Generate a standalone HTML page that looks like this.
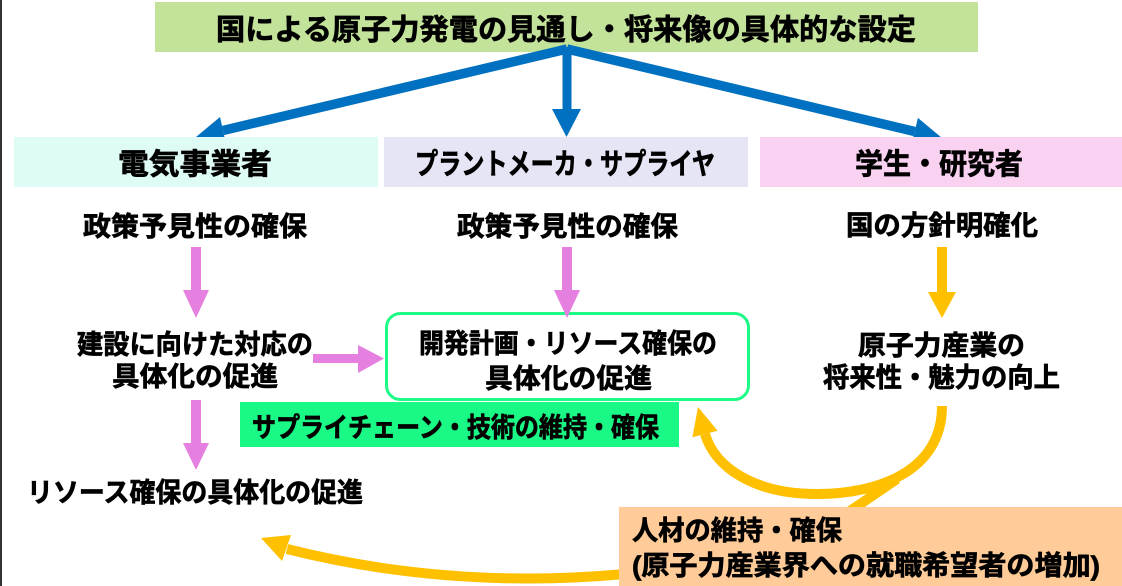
<!DOCTYPE html>
<html>
<head>
<meta charset="utf-8">
<style>
  html,body{margin:0;padding:0;background:#fff;}
  body{width:1122px;height:586px;overflow:hidden;}
  svg{display:block;}
  text{font-family:"Liberation Sans","Noto Sans CJK JP",sans-serif;font-weight:bold;fill:#000;stroke:#000;stroke-width:0.7px;}
</style>
</head>
<body>
<svg width="1122" height="586" viewBox="0 0 1122 586" xmlns="http://www.w3.org/2000/svg">
  <!-- left border line -->
  <rect x="0" y="0" width="2" height="586" fill="#333"/>

  <!-- title -->
  <rect x="155" y="2" width="823" height="50" fill="#c3e29a"/>
  <text x="216" y="39.5" font-size="29" textLength="700" lengthAdjust="spacingAndGlyphs">国による原子力発電の見通し・将来像の具体的な設定</text>

  <!-- blue arrows -->
  <g fill="#0070c0" stroke="none">
    <line x1="567" y1="49" x2="223" y2="130.5" stroke="#0070c0" stroke-width="9.5"/>
    <polygon points="196,137 220,117 226,144"/>
    <line x1="567" y1="49" x2="914.7" y2="131.5" stroke="#0070c0" stroke-width="9.5"/>
    <polygon points="942,138 917.9,117.9 911.5,145.1"/>
    <rect x="562.5" y="47" width="9" height="64"/>
    <polygon points="552,109 581,109 566.5,137"/>
  </g>

  <!-- category boxes -->
  <rect x="14" y="137" width="364" height="50" fill="#dffbf5"/>
  <rect x="384" y="137" width="364" height="50" fill="#e6e5f6"/>
  <rect x="760" y="137" width="362" height="50" fill="#f9d1f1"/>
  <text x="118" y="174" font-size="29" textLength="154" lengthAdjust="spacingAndGlyphs">電気事業者</text>
  <text x="415" y="174" font-size="29" textLength="300" lengthAdjust="spacingAndGlyphs">プラントメーカ・サプライヤ</text>
  <text x="855" y="174" font-size="29" textLength="168" lengthAdjust="spacingAndGlyphs">学生・研究者</text>

  <!-- row 2 -->
  <text x="83" y="236" font-size="27" textLength="224" lengthAdjust="spacingAndGlyphs">政策予見性の確保</text>
  <text x="457" y="236" font-size="27" textLength="221" lengthAdjust="spacingAndGlyphs">政策予見性の確保</text>
  <text x="846" y="235" font-size="27" textLength="192" lengthAdjust="spacingAndGlyphs">国の方針明確化</text>

  <!-- middle rounded box -->
  <rect x="386.5" y="313.5" width="362" height="86" rx="14" ry="14" fill="#fff" stroke="#1efa86" stroke-width="3"/>

  <!-- pink arrows -->
  <g fill="#e580e0">
    <rect x="191" y="247" width="10" height="44"/>
    <polygon points="183,290 209,290 196,318"/>
    <rect x="562" y="247" width="10" height="44"/>
    <polygon points="554,290 580,290 567,318"/>
    <rect x="313" y="354" width="46" height="9"/>
    <polygon points="358,345 358,373 384,358.5"/>
    <rect x="191" y="400" width="10" height="44"/>
    <polygon points="183,443 209,443 196,470"/>
  </g>

  <!-- orange down arrow -->
  <g fill="#ffc000">
    <rect x="937" y="247" width="10" height="46"/>
    <polygon points="928,292 956,292 942,318"/>
  </g>

  <!-- left column texts -->
  <text x="77" y="354" font-size="27" textLength="236" lengthAdjust="spacingAndGlyphs">建設に向けた対応の</text>
  <text x="112" y="386" font-size="27" textLength="166" lengthAdjust="spacingAndGlyphs">具体化の促進</text>
  <text x="27" y="502" font-size="27" textLength="336" lengthAdjust="spacingAndGlyphs">リソース確保の具体化の促進</text>

  <!-- middle box texts -->
  <text x="419" y="353" font-size="27" textLength="298" lengthAdjust="spacingAndGlyphs">開発計画・リソース確保の</text>
  <text x="485" y="388" font-size="27" textLength="167" lengthAdjust="spacingAndGlyphs">具体化の促進</text>

  <!-- right texts -->
  <text x="858" y="355" font-size="27" textLength="167" lengthAdjust="spacingAndGlyphs">原子力産業の</text>
  <text x="823" y="387" font-size="27" textLength="237" lengthAdjust="spacingAndGlyphs">将来性・魅力の向上</text>

  <!-- green bar -->
  <rect x="240" y="402" width="439" height="45" fill="#1af985"/>
  <text x="252" y="437" font-size="27" textLength="407" lengthAdjust="spacingAndGlyphs">サプライチェーン・技術の維持・確保</text>

  <!-- orange loop arrow -->
  <g fill="none" stroke="#ffc000" stroke-width="10">
    <path d="M 942 406 C 942 470, 880 494, 817 494 C 755 494, 715 468, 705 434"/>
    <line x1="897" y1="479" x2="850" y2="511"/>
    <path d="M 625 574 Q 450 590 287 549"/>
  </g>
  <g fill="#ffc000">
    <polygon points="698,407 717.6,430.8 692.4,437.2"/>
    <polygon points="261,538 291,535 282,561"/>
  </g>

  <!-- orange box -->
  <rect x="619" y="507" width="503" height="79" fill="#ffcb98"/>
  <text x="632" y="540" font-size="27" textLength="210" lengthAdjust="spacingAndGlyphs">人材の維持・確保</text>
  <text x="632" y="575" font-size="27" textLength="468" lengthAdjust="spacingAndGlyphs">(原子力産業界への就職希望者の増加)</text>
</svg>
</body>
</html>
